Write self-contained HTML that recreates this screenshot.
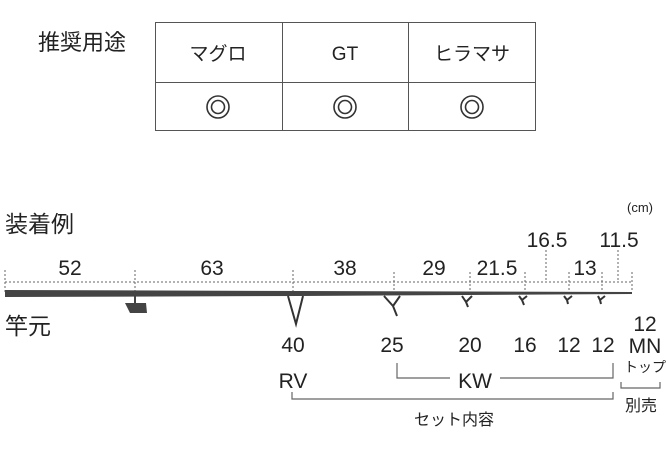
<!DOCTYPE html>
<html><head><meta charset="utf-8"><style>
html,body{margin:0;padding:0;background:#fff;}
svg{display:block;}
text{font-family:"Liberation Sans","Noto Sans CJK JP",sans-serif;fill:#222;}
</style></head><body>
<svg width="666" height="469" viewBox="0 0 666 469" xmlns="http://www.w3.org/2000/svg">
<text x="38" y="50" font-size="22">推奨用途</text>
<g stroke="#555" stroke-width="1" fill="none">
<rect x="155.5" y="22.5" width="380" height="108"/>
<line x1="155" y1="82.5" x2="535" y2="82.5"/>
<line x1="282.5" y1="22" x2="282.5" y2="130"/>
<line x1="408.5" y1="22" x2="408.5" y2="130"/>
</g>
<text x="218" y="60" font-size="19" text-anchor="middle">マグロ</text>
<text x="345" y="60" font-size="19" text-anchor="middle">GT</text>
<text x="472" y="60" font-size="19" text-anchor="middle">ヒラマサ</text>
<g stroke="#333" stroke-width="1.6" fill="none">
<circle cx="218" cy="107" r="11"/><circle cx="218" cy="107" r="6.5"/>
<circle cx="345" cy="107" r="11"/><circle cx="345" cy="107" r="6.5"/>
<circle cx="472" cy="107" r="11"/><circle cx="472" cy="107" r="6.5"/>
</g>
<text x="5" y="232" font-size="23">装着例</text>
<text x="5" y="334" font-size="23">竿元</text>
<text x="640" y="212" font-size="13" text-anchor="middle">(cm)</text>
<g font-size="21" text-anchor="middle">
<text x="70" y="275">52</text><text x="212" y="275">63</text><text x="345" y="275">38</text>
<text x="434" y="275">29</text><text x="497" y="275">21.5</text><text x="585" y="275">13</text>
<text x="547" y="247">16.5</text><text x="619" y="247">11.5</text>
</g>
<g stroke="#666" stroke-width="1" stroke-dasharray="2,2" fill="none">
<line x1="5" y1="282" x2="632" y2="282"/>
<line x1="5" y1="270" x2="5" y2="292"/><line x1="135" y1="270" x2="135" y2="292"/>
<line x1="293" y1="270" x2="293" y2="292"/><line x1="394" y1="272" x2="394" y2="292"/>
<line x1="470" y1="272" x2="470" y2="292"/><line x1="525" y1="272" x2="525" y2="292"/>
<line x1="569" y1="272" x2="569" y2="292"/><line x1="602" y1="272" x2="602" y2="292"/>
<line x1="632" y1="272" x2="632" y2="292"/>
<line x1="546" y1="250" x2="546" y2="282"/><line x1="618" y1="250" x2="618" y2="282"/>
</g>
<polygon points="5,290 300,291 632,292 632,294 300,296 5,297" fill="#444"/>
<polygon points="125,303 146,303 147,313 130,313" fill="#444"/>
<line x1="135" y1="296" x2="135" y2="304" stroke="#444" stroke-width="2"/>
<g stroke="#333" stroke-width="2" fill="none">
<path d="M288 296 L296 324 L303 296"/>
<path d="M384 296 L393 306 L397 316 M393 306 L400 296"/>
<path d="M462 296 L466 302 L468 307 M466 302 L472 296"/>
<path d="M519 296 L522 300 L524 305 M522 300 L527 296"/>
<path d="M564 296 L567 300 L568 304 M567 300 L572 296"/>
<path d="M598 296 L600 300 L601 304 M600 300 L605 296"/>
</g>
<g font-size="21" text-anchor="middle">
<text x="293" y="352">40</text><text x="392" y="352">25</text><text x="470" y="352">20</text>
<text x="525" y="352">16</text><text x="569" y="352">12</text><text x="603" y="352">12</text>
<text x="645" y="331">12</text><text x="645" y="353">MN</text>
<text x="293" y="388">RV</text><text x="475" y="388">KW</text>
</g>
<text x="645" y="372" font-size="14" text-anchor="middle">トップ</text>
<text x="641" y="411" font-size="16" text-anchor="middle">別売</text>
<text x="454" y="425" font-size="16" text-anchor="middle">セット内容</text>
<g stroke="#666" stroke-width="1.2" fill="none">
<path d="M397 363 V378 H450 M500 378 H613 V363"/>
<path d="M292 392 V399 H613 V392"/>
<path d="M621 382 V388 H660 V382"/>
</g>
</svg>
</body></html>
